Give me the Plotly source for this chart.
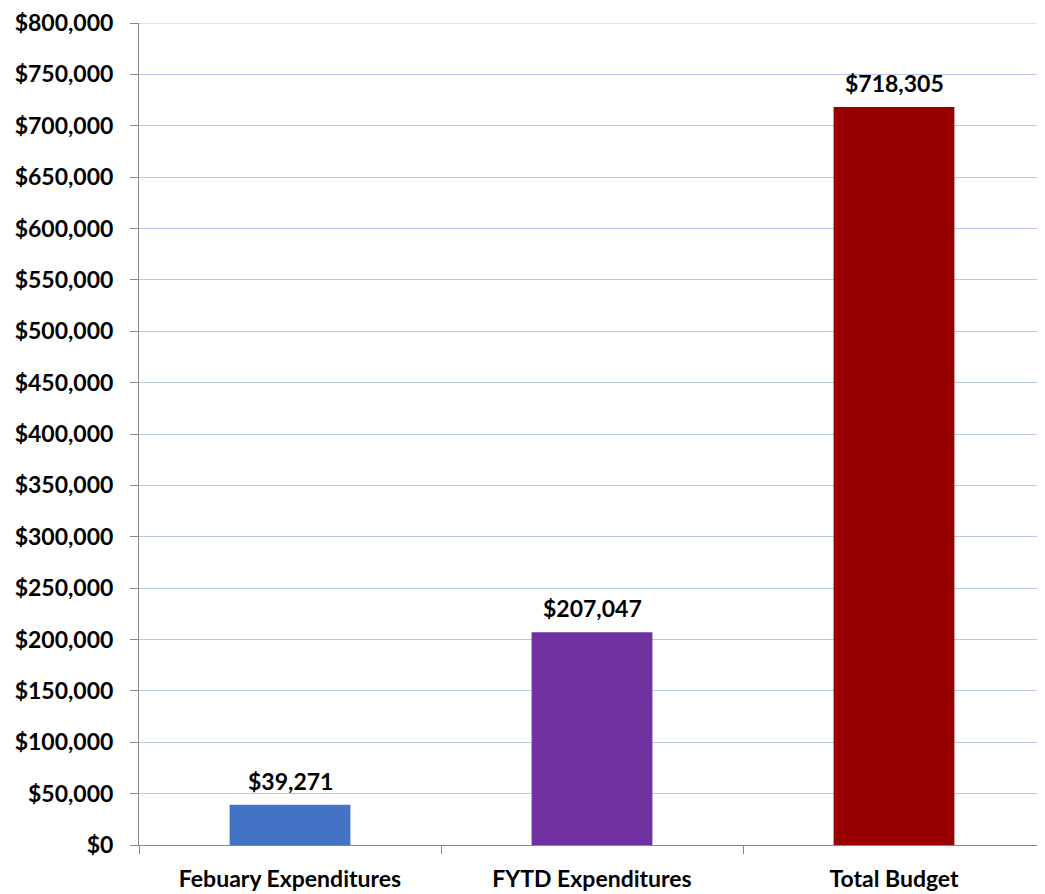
import plotly.graph_objects as go

categories = ["Febuary Expenditures", "FYTD Expenditures", "Total Budget"]
values = [39271, 207047, 718305]
colors = ["#4472C4", "#7030A0", "#990000"]
tick_vals = list(range(0, 800001, 50000))
tick_text = ["${:,}".format(v) for v in tick_vals]

font_family = "Lato, 'Open Sans', sans-serif"
fsize = 23
grid_color = "#B9C8EA"

fig = go.Figure(go.Bar(
    x=categories,
    y=values,
    marker=dict(color=colors, line=dict(width=0)),
    width=0.4,
    cliponaxis=False,
))

for c, v in zip(categories, values):
    fig.add_annotation(
        x=c, y=v, text="<b>${:,}</b>".format(v),
        showarrow=False, yanchor="bottom", yshift=8,
        font=dict(family=font_family, size=fsize, color="#000000"),
    )

fig.add_shape(type="line", xref="paper", yref="y", x0=0, x1=1,
              y0=800000, y1=800000, line=dict(color=grid_color, width=1),
              layer="below")

fig.update_layout(
    width=1037, height=886,
    margin=dict(l=131, r=0, t=15, b=49, autoexpand=False),
    paper_bgcolor="white", plot_bgcolor="white",
    showlegend=False,
    font=dict(family=font_family, size=fsize, color="#000000"),
)
fig.update_yaxes(
    range=[0, 800000],
    tickvals=tick_vals, ticktext=tick_text,
    tickfont=dict(family=font_family, size=fsize, color="#000000", weight="bold"),
    showgrid=True, gridcolor=grid_color, gridwidth=1,
    showline=True, linecolor="#868686", linewidth=1,
    ticks="outside", ticklen=8, tickcolor="#868686",
    ticklabelstandoff=12,
    ticklabeloverflow="allow",
    zeroline=False,
    automargin=False,
)
fig.update_xaxes(
    tickfont=dict(family=font_family, size=fsize, color="#000000", weight="bold"),
    showline=True, linecolor="#868686", linewidth=1,
    ticks="outside", ticklen=8, tickcolor="#868686",
    tickson="boundaries",
    ticklabelstandoff=13,
    ticklabeloverflow="allow",
    showgrid=False,
    automargin=False,
)

fig.write_html("out.html")
